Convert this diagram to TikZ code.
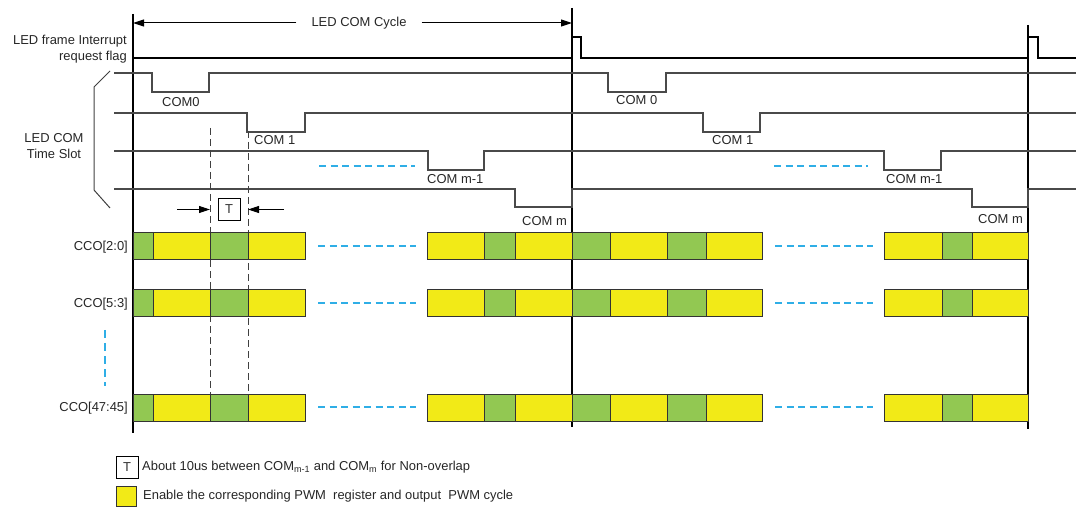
\documentclass[tikz,border=0pt]{standalone}
\usepackage{fontspec}
\setmainfont{Liberation Sans}
\usetikzlibrary{arrows.meta}

\definecolor{pwmyellow}{HTML}{F2EA17}
\definecolor{pwmgreen}{HTML}{92C852}
\definecolor{skyblue}{HTML}{2FAEE6}
\definecolor{sigline}{HTML}{4A4A4A}

\begin{document}
\begin{tikzpicture}[
    x=1bp, y=-1bp,
    >={Triangle[length=11bp, width=7bp]},
    txt/.style={font=\fontsize{13}{16}\selectfont, inner sep=0pt, text=black!85},
    frameline/.style={line width=1.1bp, black},
    sigwave/.style={line width=1.1bp, sigline},
    skipdash/.style={line width=1.4bp, draw=skyblue, dash pattern=on 7bp off 4.5bp},
    guidedash/.style={line width=1bp, black!75, dash pattern=on 7bp off 4bp},
    slotbox/.style={draw=black!80, line width=1bp},
    tbox/.style={draw, line width=0.9bp, minimum width=22bp, minimum height=22bp, inner sep=0pt, font=\fontsize{13}{16}\selectfont, text=black!80}
]
\useasboundingbox (0,0) rectangle (1078,508);

% ==========================================
% Frame boundaries & LED COM cycle
% ==========================================
\draw[frameline] (133,14) -- (133,433);
\draw[frameline] (572,8) -- (572,427);
\draw[frameline] (1028,25) -- (1028,429);

\coordinate (cycle_l) at (133,23);
\coordinate (cycle_r) at (572,23);
\node[txt, inner xsep=15bp] (cycle) at (359,23) {LED COM Cycle};
\draw[->, line width=1bp] (cycle.west) -- (cycle_l);
\draw[->, line width=1bp] (cycle.east) -- (cycle_r);

% Interrupt request flag
\node[txt, anchor=east, align=right] (flag_lbl) at (127,49.5) {LED frame Interrupt\\request flag};
\draw[sigwave, black] (133,58) -- (572,58) -- (572,37) -- (581,37) -- (581,58)
    -- (1028,58) -- (1028,37) -- (1038,37) -- (1038,58) -- (1076,58);

% ==========================================
% LED COM time slots
% ==========================================
\node[txt, align=center] (slot_lbl) at (54,146) {LED COM\\Time Slot};
\draw[line width=1bp, black!75] (110,71) -- (94,87) -- (94,190) -- (110,208);

\draw[sigwave] (114,73) -- (152,73) -- (152,92) -- (209,92) -- (209,73)
    -- (608,73) -- (608,92) -- (666,92) -- (666,73) -- (1076,73);
\draw[sigwave] (114,113) -- (247,113) -- (247,132) -- (305,132) -- (305,113)
    -- (703,113) -- (703,132) -- (760,132) -- (760,113) -- (1076,113);
\draw[sigwave] (114,151) -- (428,151) -- (428,170) -- (484,170) -- (484,151)
    -- (884,151) -- (884,170) -- (941,170) -- (941,151) -- (1076,151);
\draw[sigwave] (114,189) -- (515,189) -- (515,207) -- (572,207) -- (572,189)
    -- (972,189) -- (972,207) -- (1028,207) -- (1028,189) -- (1076,189);

\node[txt, anchor=west] (com0_a) at (162,102) {COM0};
\node[txt, anchor=west] (com1_a) at (254,140) {COM 1};
\node[txt, anchor=west] (comm1_a) at (427,179) {COM m-1};
\node[txt, anchor=west] (comm_a) at (522,221) {COM m};
\node[txt, anchor=west] (com0_b) at (616,100) {COM 0};
\node[txt, anchor=west] (com1_b) at (712,140) {COM 1};
\node[txt, anchor=west] (comm1_b) at (886,179) {COM m-1};
\node[txt, anchor=west] (comm_b) at (978,219) {COM m};

\draw[skipdash] (319,166) -- (415,166);
\draw[skipdash] (774,166) -- (868,166);

% Non-overlap gap T
\draw[guidedash] (210,128) -- (210,394);
\draw[guidedash] (248,131) -- (248,394);
\node[tbox] (T_gap) at (229,209.5) {T};
\coordinate (gap_l) at (210,209.5);
\coordinate (gap_r) at (248,209.5);
\draw[->, line width=1bp] (177,209.5) -- (gap_l);
\draw[->, line width=1bp] (284,209.5) -- (gap_r);

% ==========================================
% CCO outputs
% ==========================================
\foreach \yy/\name in {233/{CCO[2:0]}, 290/{CCO[5:3]}, 394/{CCO[47:45]}} {
    \node[txt, anchor=east] at (128,\yy+14) {\name};
    \foreach \xa/\xb/\col in {133/153/pwmgreen, 153/210/pwmyellow, 210/248/pwmgreen, 248/305/pwmyellow,
        427/484/pwmyellow, 484/515/pwmgreen, 515/572/pwmyellow, 572/610/pwmgreen,
        610/667/pwmyellow, 667/706/pwmgreen, 706/762/pwmyellow,
        884/942/pwmyellow, 942/972/pwmgreen, 972/1028/pwmyellow}
        \draw[slotbox, fill=\col] (\xa,\yy) rectangle (\xb,\yy+27);
}
% skipped slots
\foreach \yc in {246, 303, 407} {
    \draw[skipdash] (318,\yc) -- (416,\yc);
    \draw[skipdash] (775,\yc) -- (873,\yc);
}
\draw[skipdash, dash pattern=on 8bp off 5bp] (105,330) -- (105,386);

% ==========================================
% Legend
% ==========================================
\node[tbox] (T_key) at (127,467) {T};
\node[txt, anchor=west] (T_txt) at (142,467) {About 10us between COM\textsubscript{m-1} and COM\textsubscript{m} for Non-overlap};
\node[draw=black!80, line width=1bp, fill=pwmyellow, minimum width=20bp, minimum height=20bp, inner sep=0pt] (Y_key) at (126,496) {};
\node[txt, anchor=west] (Y_txt) at (143,496) {Enable the corresponding PWM\ \ register and output\ \ PWM cycle};

\end{tikzpicture}
\end{document}
